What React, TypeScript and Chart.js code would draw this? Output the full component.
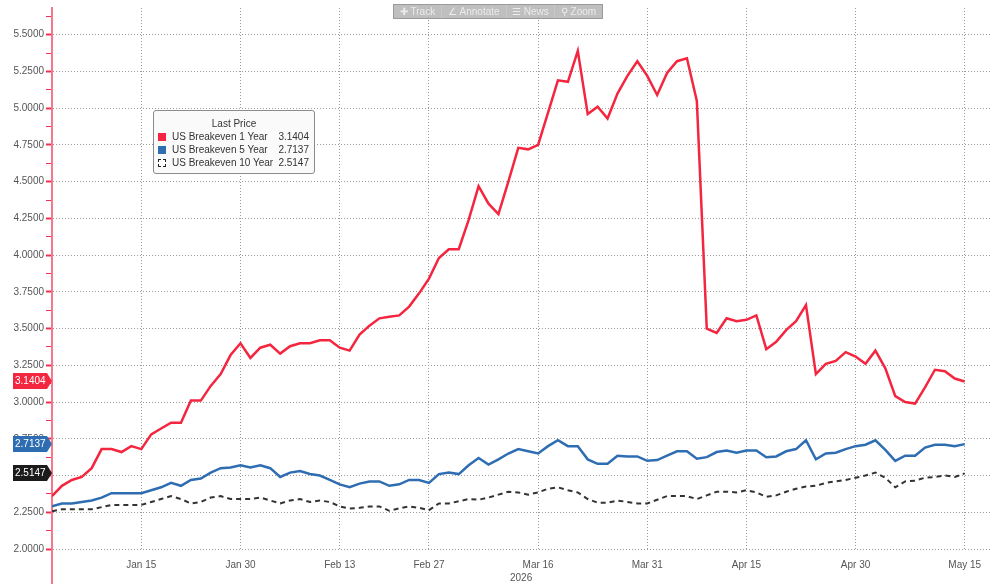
import { useEffect, useRef } from "react";
import { Chart, registerables } from "chart.js";

Chart.register(...registerables);

// Trading days (US bond market), Jan 2 – May 15, 2026
const dates = [
  "Jan 2", "Jan 5", "Jan 6", "Jan 7", "Jan 8", "Jan 9", "Jan 12", "Jan 13", "Jan 14", "Jan 15",
  "Jan 16", "Jan 20", "Jan 21", "Jan 22", "Jan 23", "Jan 26", "Jan 27", "Jan 28", "Jan 29", "Jan 30",
  "Feb 2", "Feb 3", "Feb 4", "Feb 5", "Feb 6", "Feb 9", "Feb 10", "Feb 11", "Feb 12", "Feb 13",
  "Feb 17", "Feb 18", "Feb 19", "Feb 20", "Feb 23", "Feb 24", "Feb 25", "Feb 26", "Feb 27",
  "Mar 2", "Mar 3", "Mar 4", "Mar 5", "Mar 6", "Mar 9", "Mar 10", "Mar 11", "Mar 12", "Mar 13",
  "Mar 16", "Mar 17", "Mar 18", "Mar 19", "Mar 20", "Mar 23", "Mar 24", "Mar 25", "Mar 26", "Mar 27",
  "Mar 30", "Mar 31",
  "Apr 1", "Apr 2", "Apr 6", "Apr 7", "Apr 8", "Apr 9", "Apr 10", "Apr 13", "Apr 14", "Apr 15",
  "Apr 16", "Apr 17", "Apr 20", "Apr 21", "Apr 22", "Apr 23", "Apr 24", "Apr 27", "Apr 28", "Apr 29",
  "Apr 30",
  "May 1", "May 4", "May 5", "May 6", "May 7", "May 8", "May 11", "May 12", "May 13", "May 14", "May 15",
];

const xTickLabels = ["Jan 15", "Jan 30", "Feb 13", "Feb 27", "Mar 16", "Mar 31", "Apr 15", "Apr 30", "May 15"];
const yearLabel = "2026";
const yearLabelAt = "Mar 16";

const yTickValues = [2.0, 2.25, 2.5, 2.75, 3.0, 3.25, 3.5, 3.75, 4.0, 4.25, 4.5, 4.75, 5.0, 5.25, 5.5];

const breakeven1Y = [
  2.36, 2.43, 2.47, 2.49, 2.55, 2.68, 2.68, 2.66, 2.70, 2.68,
  2.78, 2.82, 2.86, 2.86, 3.01, 3.01, 3.11, 3.19, 3.32, 3.40,
  3.30, 3.37, 3.39, 3.33, 3.38, 3.40, 3.40, 3.42, 3.42, 3.37,
  3.35, 3.46, 3.52, 3.57, 3.58, 3.59, 3.65, 3.74, 3.84, 3.98,
  4.04, 4.04, 4.24, 4.47, 4.35, 4.28, 4.50, 4.73, 4.72, 4.75,
  4.97, 5.19, 5.18, 5.39, 4.96, 5.01, 4.93, 5.10, 5.22, 5.32,
  5.22, 5.09, 5.24, 5.32, 5.34, 5.05, 3.50, 3.47, 3.57, 3.55,
  3.56, 3.59, 3.36, 3.41, 3.49, 3.55, 3.66, 3.19, 3.26, 3.28,
  3.34, 3.31, 3.26, 3.35, 3.23, 3.04, 3.00, 2.99, 3.10, 3.22,
  3.21, 3.16, 3.1404,
];

const breakeven5Y = [
  2.29, 2.31, 2.31, 2.32, 2.33, 2.35, 2.38, 2.38, 2.38, 2.38,
  2.40, 2.42, 2.45, 2.43, 2.47, 2.48, 2.52, 2.55, 2.555, 2.57,
  2.555, 2.57, 2.55, 2.49, 2.52, 2.53, 2.51, 2.50, 2.47, 2.44,
  2.42, 2.445, 2.46, 2.46, 2.43, 2.44, 2.47, 2.47, 2.45, 2.51,
  2.52, 2.51, 2.57, 2.62, 2.575, 2.61, 2.65, 2.68, 2.665, 2.65,
  2.70, 2.74, 2.70, 2.70, 2.61, 2.58, 2.58, 2.635, 2.63, 2.63,
  2.60, 2.605, 2.635, 2.665, 2.665, 2.615, 2.625, 2.66, 2.67, 2.655,
  2.67, 2.67, 2.625, 2.63, 2.665, 2.68, 2.74, 2.61, 2.65, 2.655,
  2.68, 2.70, 2.71, 2.74, 2.675, 2.60, 2.635, 2.635, 2.69, 2.71,
  2.71, 2.70, 2.7137,
];

const breakeven10Y = [
  2.257, 2.27, 2.27, 2.27, 2.27, 2.285, 2.30, 2.30, 2.30, 2.30,
  2.32, 2.34, 2.36, 2.34, 2.31, 2.32, 2.35, 2.36, 2.34, 2.34,
  2.34, 2.35, 2.33, 2.31, 2.33, 2.34, 2.32, 2.33, 2.32, 2.29,
  2.275, 2.28, 2.29, 2.29, 2.26, 2.277, 2.29, 2.28, 2.265, 2.31,
  2.31, 2.325, 2.34, 2.335, 2.35, 2.37, 2.39, 2.385, 2.37, 2.385,
  2.41, 2.42, 2.40, 2.385, 2.34, 2.315, 2.315, 2.33, 2.32, 2.31,
  2.31, 2.335, 2.36, 2.36, 2.36, 2.34, 2.365, 2.39, 2.39, 2.385,
  2.40, 2.385, 2.355, 2.365, 2.39, 2.41, 2.425, 2.43, 2.45, 2.46,
  2.47, 2.485, 2.50, 2.52, 2.485, 2.42, 2.46, 2.465, 2.485, 2.49,
  2.50, 2.49, 2.5147,
];

const seriesNames = ["US Breakeven 1 Year", "US Breakeven 5 Year", "US Breakeven 10 Year"];
const RED = "#f4263f";
const BLUE = "#2e6db2";
const BLACK = "#333333";
const FONT = "Liberation Sans";

const last = (a: number[]) => a[a.length - 1];

const isMajor = (v: number) => Math.abs(v * 4 - Math.round(v * 4)) < 1e-6;

export default function App() {
  const canvasRef = useRef<HTMLCanvasElement | null>(null);

  useEffect(() => {
    const canvas = canvasRef.current;
    if (!canvas) return;

    const toPoints = (arr: number[]) => arr.map((v, i) => ({ x: i, y: v }));
    const xTickIdx = xTickLabels.map((l) => dates.indexOf(l));
    const yAllTicks: number[] = [];
    yTickValues.forEach((v) => {
      yAllTicks.push(v);
      yAllTicks.push(v + 0.125);
    });

    const tags = [
      { value: last(breakeven1Y), color: RED },
      { value: last(breakeven5Y), color: BLUE },
      { value: last(breakeven10Y), color: "#1b1b1b" },
    ];

    const overlay = {
      id: "overlay",
      afterDraw(chart: any) {
        const { ctx, chartArea } = chart;
        const ys = chart.scales.y;
        const xs = chart.scales.x;
        ctx.save();
        // axis line extension
        ctx.strokeStyle = "#f7778a";
        ctx.lineWidth = 2;
        ctx.beginPath();
        ctx.moveTo(chartArea.left, chartArea.bottom);
        ctx.lineTo(chartArea.left, chart.height);
        ctx.stroke();
        // year label
        ctx.fillStyle = "#555";
        ctx.font = `10px "${FONT}"`;
        ctx.textAlign = "center";
        ctx.textBaseline = "middle";
        ctx.fillText(yearLabel, xs.getPixelForValue(dates.indexOf(yearLabelAt)) - 17, 578);
        // last value tags
        tags.forEach((t) => {
          const py = Math.round(ys.getPixelForValue(t.value));
          const x0 = 13;
          const x1 = 47;
          const tip = chartArea.left;
          const h = 16;
          ctx.fillStyle = t.color;
          ctx.beginPath();
          ctx.moveTo(x0, py - h / 2);
          ctx.lineTo(x1, py - h / 2);
          ctx.lineTo(tip, py);
          ctx.lineTo(x1, py + h / 2);
          ctx.lineTo(x0, py + h / 2);
          ctx.closePath();
          ctx.fill();
          ctx.fillStyle = "#ffffff";
          ctx.textAlign = "left";
          ctx.font = `10px "${FONT}"`;
          ctx.fillText(t.value.toFixed(4), x0 + 2, py + 0.5);
        });
        ctx.restore();
      },
    };

    const chart = new Chart(canvas, {
      type: "line",
      data: {
        datasets: [
          {
            label: seriesNames[2],
            data: toPoints(breakeven10Y),
            borderColor: BLACK,
            borderWidth: 2,
            borderDash: [5, 4],
            pointRadius: 0,
            tension: 0,
          },
          {
            label: seriesNames[1],
            data: toPoints(breakeven5Y),
            borderColor: BLUE,
            borderWidth: 2.5,
            pointRadius: 0,
            tension: 0,
          },
          {
            label: seriesNames[0],
            data: toPoints(breakeven1Y),
            borderColor: RED,
            borderWidth: 2.5,
            pointRadius: 0,
            tension: 0,
          },
        ],
      },
      options: {
        animation: false,
        responsive: false,
        maintainAspectRatio: false,
        devicePixelRatio: 1,
        layout: { padding: { top: 4, right: 2, left: 0, bottom: 0 } },
        plugins: { legend: { display: false }, tooltip: { enabled: false } },
        scales: {
          x: {
            type: "linear",
            min: 0,
            max: 94.55,
            afterBuildTicks: (s: any) => {
              s.ticks = xTickIdx.map((v) => ({ value: v }));
            },
            afterFit: (s: any) => {
              s.height = 35;
            },
            ticks: {
              autoSkip: false,
              maxRotation: 0,
              padding: 10,
              color: "#555",
              font: { family: FONT, size: 10 },
              callback: (v: any) => dates[Math.round(Number(v))],
            },
            grid: { color: "#9a9a9a", drawTicks: false, lineWidth: 1 },
            border: { display: false, dash: [1, 2] },
          },
          y: {
            type: "linear",
            min: 2.0,
            max: 5.682,
            afterBuildTicks: (s: any) => {
              s.ticks = yAllTicks.map((v) => ({ value: v }));
            },
            afterFit: (s: any) => {
              s.width = 52;
            },
            ticks: {
              autoSkip: false,
              padding: 2,
              color: "#555",
              font: { family: FONT, size: 10 },
              callback: (v: any) => (isMajor(Number(v)) ? Number(v).toFixed(4) : ""),
            },
            grid: {
              color: (c: any) => (c.tick && !isMajor(c.tick.value) ? "rgba(0,0,0,0)" : "#9a9a9a"),
              tickColor: "#f03050",
              tickLength: 6,
              tickWidth: (c: any) => (c.tick && isMajor(c.tick.value) ? 2 : 1),
              lineWidth: 1,
            },
            border: { display: true, color: "#f7778a", width: 2, dash: [1, 2] },
          },
        },
      },
      plugins: [overlay],
    } as any);

    return () => chart.destroy();
  }, []);

  const legendRows = [
    { name: seriesNames[0], value: last(breakeven1Y), kind: "red" },
    { name: seriesNames[1], value: last(breakeven5Y), kind: "blue" },
    { name: seriesNames[2], value: last(breakeven10Y), kind: "dash" },
  ];

  const font = `"${FONT}", Arial, sans-serif`;

  return (
    <div style={{ position: "absolute", left: 0, top: 0, width: 992, height: 584, background: "#fff", overflow: "hidden" }}>
      <canvas ref={canvasRef} width={992} height={584} style={{ position: "absolute", left: 0, top: 0, width: 992, height: 584 }} />
      {/* toolbar */}
      <div
        style={{
          position: "absolute",
          left: 393,
          top: 4,
          width: 210,
          height: 15,
          background: "rgba(170,170,170,0.75)",
          border: "1px solid #9a9a9a",
          boxSizing: "border-box",
          display: "flex",
          fontFamily: font,
          fontSize: 10,
          color: "#ececec",
          lineHeight: "13px",
        }}
      >
        {["✚ Track", "∠ Annotate", "☰ News", "⚲ Zoom"].map((t, i) => (
          <div
            key={t}
            style={{
              flex: i === 1 ? 1.35 : 1,
              textAlign: "center",
              borderLeft: i ? "1px solid #c8c8c8" : "none",
              whiteSpace: "nowrap",
            }}
          >
            {t}
          </div>
        ))}
      </div>
      {/* legend */}
      <div
        style={{
          position: "absolute",
          left: 153,
          top: 110,
          width: 162,
          height: 64,
          boxSizing: "border-box",
          border: "1.5px solid #8c8c8c",
          borderRadius: 3,
          background: "#fafafa",
          fontFamily: font,
          fontSize: 10,
          color: "#333",
        }}
      >
        <div style={{ position: "absolute", left: 0, right: 0, top: 7, textAlign: "center", lineHeight: "12px" }}>Last Price</div>
        {legendRows.map((r, i) => (
          <div key={r.name} style={{ position: "absolute", left: 3, right: 5, top: 20 + i * 13, height: 12, lineHeight: "12px" }}>
            <div
              style={{
                position: "absolute",
                left: 1,
                top: 2,
                width: 8,
                height: 8,
                boxSizing: "border-box",
                background: r.kind === "red" ? RED : r.kind === "blue" ? BLUE : "#fff",
                border: r.kind === "dash" ? "1px dashed #222" : "none",
              }}
            />
            <span style={{ position: "absolute", left: 15 }}>{r.name}</span>
            <span style={{ position: "absolute", right: 0 }}>{r.value.toFixed(4)}</span>
          </div>
        ))}
      </div>
    </div>
  );
}
